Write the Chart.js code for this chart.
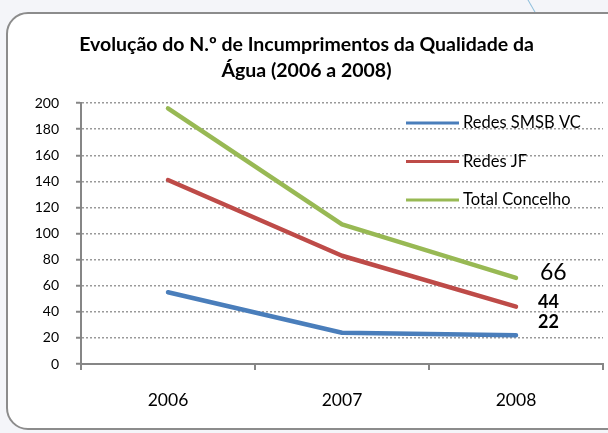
<!DOCTYPE html>
<html><head><meta charset="utf-8">
<script src="https://cdn.jsdelivr.net/npm/chart.js@4.4.0/dist/chart.umd.min.js"></script>
<style>
html,body{margin:0;padding:0;width:608px;height:433px;overflow:hidden;background:#f4f5f9;}
#frame{position:absolute;left:6px;top:12px;width:640px;height:418px;background:#fff;border:2.5px solid #8c8c8c;border-radius:22px;box-sizing:border-box;}
#deco{position:absolute;left:531px;top:-2px;width:1px;height:16px;background:#8fbfdc;transform:rotate(-30deg);}
#wrap{position:absolute;left:0;top:0;width:608px;height:433px;}
</style></head><body>
<div id="deco"></div>
<div id="frame"></div>
<div id="wrap"><canvas id="c" width="608" height="433"></canvas></div>
<script>
const categories = ['2006', '2007', '2008'];
const seriesNames = ['Redes SMSB VC', 'Redes JF', 'Total Concelho'];
const smsb = [55, 24, 22];
const jf = [141, 83, 44];
const total = [196, 107, 66];
const yTickValues = [0, 20, 40, 60, 80, 100, 120, 140, 160, 180, 200];
const titleLines = ['Evolução do N.º de Incumprimentos da Qualidade da', 'Água (2006 a 2008)'];
const endLabels = ['22', '44', '66'];

const FONT = 'Lato, "Open Sans", sans-serif';

const legendPlugin = {
  id: 'inLegend',
  afterDatasetsDraw(chart) {
    const ctx = chart.ctx, a = chart.chartArea;
    chart.data.datasets.forEach((ds, i) => {
      const y = a.top + 20 + i * 38.5;
      ctx.save();
      ctx.strokeStyle = ds.borderColor;
      ctx.lineWidth = 3;
      ctx.beginPath();
      ctx.moveTo(a.left + 325, y);
      ctx.lineTo(a.left + 378, y);
      ctx.stroke();
      ctx.fillStyle = '#000';
      ctx.font = '16.5px ' + FONT;
      ctx.textBaseline = 'middle';
      ctx.textAlign = 'left';
      ctx.fillText(ds.label, a.left + 382, y);
      ctx.restore();
    });
  }
};

const labelStyles = [
  {dx: 22, dy: -13, font: 'bold 18px ' + FONT},
  {dx: 22, dy: -4, font: 'bold 18px ' + FONT},
  {dx: 24, dy: -5, font: '23px ' + FONT}
];
const endLabelPlugin = {
  id: 'endLabels',
  afterDatasetsDraw(chart) {
    const ctx = chart.ctx;
    chart.data.datasets.forEach((ds, i) => {
      const meta = chart.getDatasetMeta(i);
      const pt = meta.data[meta.data.length - 1];
      const st = labelStyles[i];
      ctx.save();
      ctx.fillStyle = '#000';
      ctx.font = st.font;
      ctx.textAlign = 'left';
      ctx.textBaseline = 'middle';
      ctx.fillText(endLabels[i], pt.x + st.dx, pt.y + st.dy);
      ctx.restore();
    });
  }
};

const lineDs = (label, data, color) => ({
  label, data, borderColor: color, backgroundColor: color,
  borderWidth: 4.5, pointRadius: 0, pointHoverRadius: 0, tension: 0,
  borderCapStyle: 'round', borderJoinStyle: 'round', fill: false
});

new Chart(document.getElementById('c'), {
  type: 'line',
  data: {
    labels: categories,
    datasets: [
      lineDs(seriesNames[0], smsb, '#4a7ebb'),
      lineDs(seriesNames[1], jf, '#be4b48'),
      lineDs(seriesNames[2], total, '#98b954')
    ]
  },
  options: {
    responsive: false,
    devicePixelRatio: 1,
    animation: false,
    layout: {padding: {left: 10, right: 5, top: 0, bottom: 0}},
    plugins: {
      legend: {display: false},
      tooltip: {enabled: false},
      title: {
        display: true, text: titleLines, color: '#000',
        font: {family: FONT, size: 19.5, weight: 'bold', lineHeight: 1.31},
        padding: {top: 32, bottom: 20}
      }
    },
    scales: {
      x: {
        type: 'category',
        offset: true,
        grid: {drawOnChartArea: false, drawTicks: true, tickLength: 6, color: '#868686', lineWidth: 2, offset: true},
        border: {display: true, color: '#868686', width: 2},
        ticks: {color: '#000', font: {family: FONT, size: 17.5}, padding: 20, maxRotation: 0},
        afterFit(s) { s.height = 69; }
      },
      y: {
        min: 0, max: 200,
        afterBuildTicks(s) { s.ticks = yTickValues.map(v => ({value: v})); },
        grid: {color: '#9a9a9a', lineWidth: 1.5, tickLength: 5, tickColor: '#868686', tickWidth: 2, tickBorderDash: []},
        border: {display: true, color: '#868686', width: 2, dash: [2, 2]},
        ticks: {color: '#000', font: {family: FONT, size: 14}, padding: 17},
        afterFit(s) { s.width = 71; }
      }
    }
  },
  plugins: [legendPlugin, endLabelPlugin]
});
</script>
</body></html>
